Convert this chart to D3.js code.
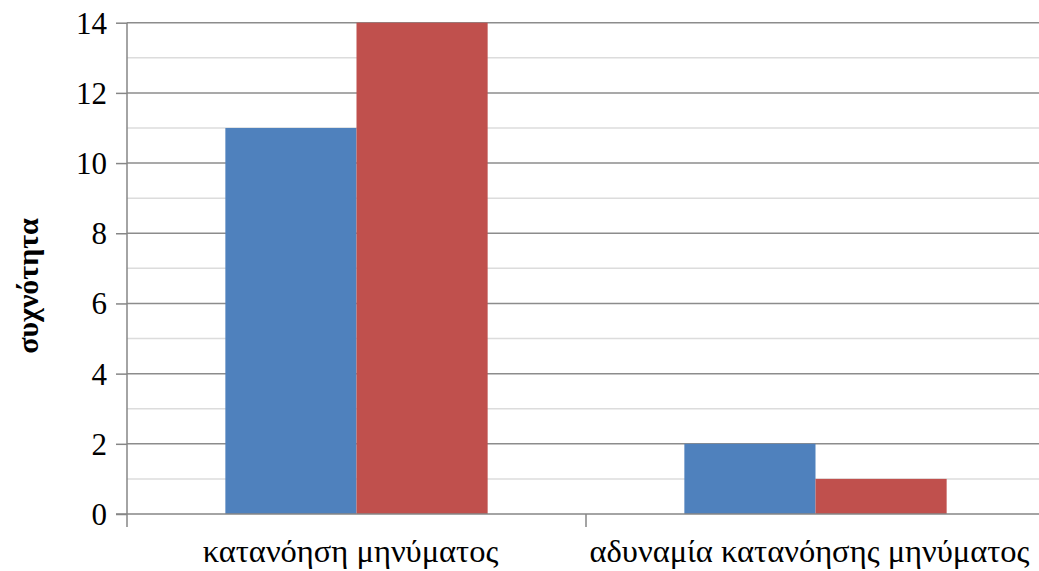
<!DOCTYPE html>
<html>
<head>
<meta charset="utf-8">
<script src="https://cdn.jsdelivr.net/npm/d3@7"></script>
<style>
  html, body { margin: 0; padding: 0; background: #fff; }
  svg { display: block; }
  svg text { font-family: "Liberation Serif", "Times New Roman", serif; }
</style>
</head>
<body>
<svg id="chart" width="1039" height="571"></svg>
<script>
// Categories and series values
const categories = ["κατανόηση μηνύματος", "αδυναμία κατανόησης μηνύματος"];
const seriesNames = ["σειρά 1", "σειρά 2"];
const seriesBlue = [11, 2];
const seriesRed = [14, 1];
const seriesColors = ["#4F81BD", "#C0504D"];
const majorTicks = [0, 2, 4, 6, 8, 10, 12, 14];
const minorTicks = [1, 3, 5, 7, 9, 11, 13];
const yTitle = "συχνότητα";

const W = 1039, H = 571;
const plotLeft = 127, plotRight = 1045, plotTop = 22.7, plotBottom = 514;
const svg = d3.select("#chart");

const x0 = d3.scaleBand()
  .domain(categories)
  .range([plotLeft, plotRight]);

// Two bars per category, gap between groups is 150% of a bar width
const groupFrac = 2 / 3.5;
const x1 = d3.scaleBand()
  .domain(seriesNames)
  .range([0, x0.bandwidth() * groupFrac]);

const y = d3.scaleLinear()
  .domain([0, 14])
  .range([plotBottom, plotTop]);

const axisColor = "#868686";

// Minor gridlines
svg.append("g").selectAll("line").data(minorTicks).join("line")
  .attr("x1", plotLeft).attr("x2", W)
  .attr("y1", d => y(d)).attr("y2", d => y(d))
  .attr("stroke", "#dcdcdc").attr("stroke-width", 1.5);

// Major gridlines
svg.append("g").selectAll("line").data(majorTicks.filter(d => d > 0)).join("line")
  .attr("x1", plotLeft).attr("x2", W)
  .attr("y1", d => y(d)).attr("y2", d => y(d))
  .attr("stroke", "#8c8c8c").attr("stroke-width", 1.5);

// Bars
const rows = categories.map((c, i) => ({ cat: c, vals: [seriesBlue[i], seriesRed[i]] }));
const groups = svg.append("g").selectAll("g").data(rows).join("g")
  .attr("transform", d => `translate(${x0(d.cat) + x0.bandwidth() * (1 - groupFrac) / 2},0)`);
groups.selectAll("rect")
  .data(d => d.vals.map((v, j) => ({ name: seriesNames[j], v, j })))
  .join("rect")
  .attr("x", d => x1(d.name))
  .attr("width", x1.bandwidth())
  .attr("y", d => y(d.v))
  .attr("height", d => y(0) - y(d.v))
  .attr("fill", d => seriesColors[d.j]);

// Y axis
const yAxis = d3.axisLeft(y).tickValues(majorTicks).tickSize(11).tickPadding(9);
const gy = svg.append("g").attr("transform", `translate(${plotLeft},0)`).call(yAxis);
gy.attr("font-family", null);
gy.select(".domain").remove();
gy.selectAll(".tick line").attr("stroke", axisColor).attr("stroke-width", 1.5);
gy.selectAll(".tick text")
  .attr("font-size", 31).attr("fill", "#000").attr("dy", "0.34em");
svg.append("line")
  .attr("x1", plotLeft).attr("x2", plotLeft)
  .attr("y1", plotTop).attr("y2", y(0) + 13)
  .attr("stroke", axisColor).attr("stroke-width", 1.5);

// X axis baseline and category separators
svg.append("line")
  .attr("x1", plotLeft - 11).attr("x2", W)
  .attr("y1", y(0)).attr("y2", y(0))
  .attr("stroke", axisColor).attr("stroke-width", 1.5);
svg.append("g").selectAll("line").data(categories.slice(1)).join("line")
  .attr("x1", d => x0(d)).attr("x2", d => x0(d))
  .attr("y1", y(0)).attr("y2", y(0) + 13)
  .attr("stroke", axisColor).attr("stroke-width", 1.5);

// Category labels
svg.append("g").selectAll("text").data(categories).join("text")
  .attr("x", d => x0(d) + x0.bandwidth() / 2 - 6)
  .attr("y", 562)
  .attr("text-anchor", "middle")
  .attr("font-size", 32.5)
  .attr("fill", "#000")
  .text(d => d);

// Y axis title
svg.append("text")
  .attr("transform", "translate(38,286) rotate(-90)")
  .attr("text-anchor", "middle")
  .attr("font-size", 30).attr("font-weight", "bold")
  .attr("fill", "#000")
  .text(yTitle);
</script>
</body>
</html>
